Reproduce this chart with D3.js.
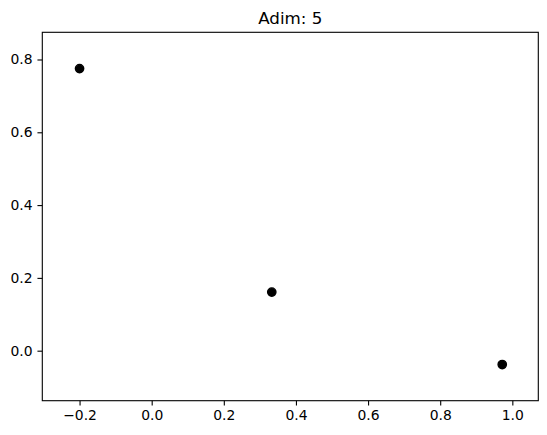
<!DOCTYPE html>
<html>
<head>
<meta charset="utf-8">
<script src="https://cdn.jsdelivr.net/npm/d3@7"></script>
<style>
  body { margin: 0; background: #fff; }
  svg text { font-family: "DejaVu Sans", sans-serif; fill: #000; }
</style>
</head>
<body>
<div id="chart"></div>
<script>
// data
var xValues = [-0.2, 0.333, 0.972];
var yValues = [0.775, 0.161, -0.038];
var xTicks = [-0.2, 0.0, 0.2, 0.4, 0.6, 0.8, 1.0];
var yTicks = [0.0, 0.2, 0.4, 0.6, 0.8];
var title = "Adim: 5";

var fullWidth = 547, fullHeight = 435;
var margins = {left: 42.3, top: 32.3, right: 547 - 538.3, bottom: 435 - 400.7};
var width = fullWidth - margins.left - margins.right;
var height = fullHeight - margins.top - margins.bottom;

var canvas = d3.select("#chart").append("svg")
    .attr("width", fullWidth)
    .attr("height", fullHeight);

var svg = canvas.append("g")
    .attr("transform", "translate(" + margins.left + "," + margins.top + ")");

var xScale = d3.scaleLinear().domain([-0.3033, 1.072]).range([0, width]);
var yScale = d3.scaleLinear().domain([-0.1374, 0.8747]).range([height, 0]);

var fmt = d3.format(".1f");
var tickLen = 4.86, tickPad = 4.86;

// x-axis
var xAxis = d3.axisBottom(xScale).tickValues(xTicks).tickFormat(fmt)
    .tickSize(tickLen).tickPadding(tickPad);
var xAxisContainer = svg.append("g")
    .attr("transform", "translate(0," + height + ")")
    .call(xAxis);

// y-axis
var yAxis = d3.axisLeft(yScale).tickValues(yTicks).tickFormat(fmt)
    .tickSize(tickLen).tickPadding(tickPad);
var yAxisContainer = svg.append("g").call(yAxis);

[xAxisContainer, yAxisContainer].forEach(function(g) {
    g.select(".domain").remove();
    g.selectAll(".tick line").attr("stroke", "#000").attr("stroke-width", 1.1);
    g.selectAll(".tick text").attr("font-size", "13.9px").attr("font-family", "DejaVu Sans");
});

// frame
svg.append("rect")
    .attr("width", width)
    .attr("height", height)
    .attr("fill", "none")
    .attr("stroke", "#000")
    .attr("stroke-width", 1.1);

// points
svg.append("g").selectAll("circle")
    .data(xValues.map(function(x, i) { return [x, yValues[i]]; }))
    .enter()
    .append("circle")
    .attr("cx", function(d) { return xScale(d[0]); })
    .attr("cy", function(d) { return yScale(d[1]); })
    .attr("r", 4.17)
    .attr("fill", "#000")
    .attr("stroke", "#000")
    .attr("stroke-width", 1.39);

// title
svg.append("text")
    .attr("x", width / 2)
    .attr("y", -8.3)
    .attr("text-anchor", "middle")
    .attr("font-size", "16.7px")
    .text(title);
</script>
</body>
</html>
